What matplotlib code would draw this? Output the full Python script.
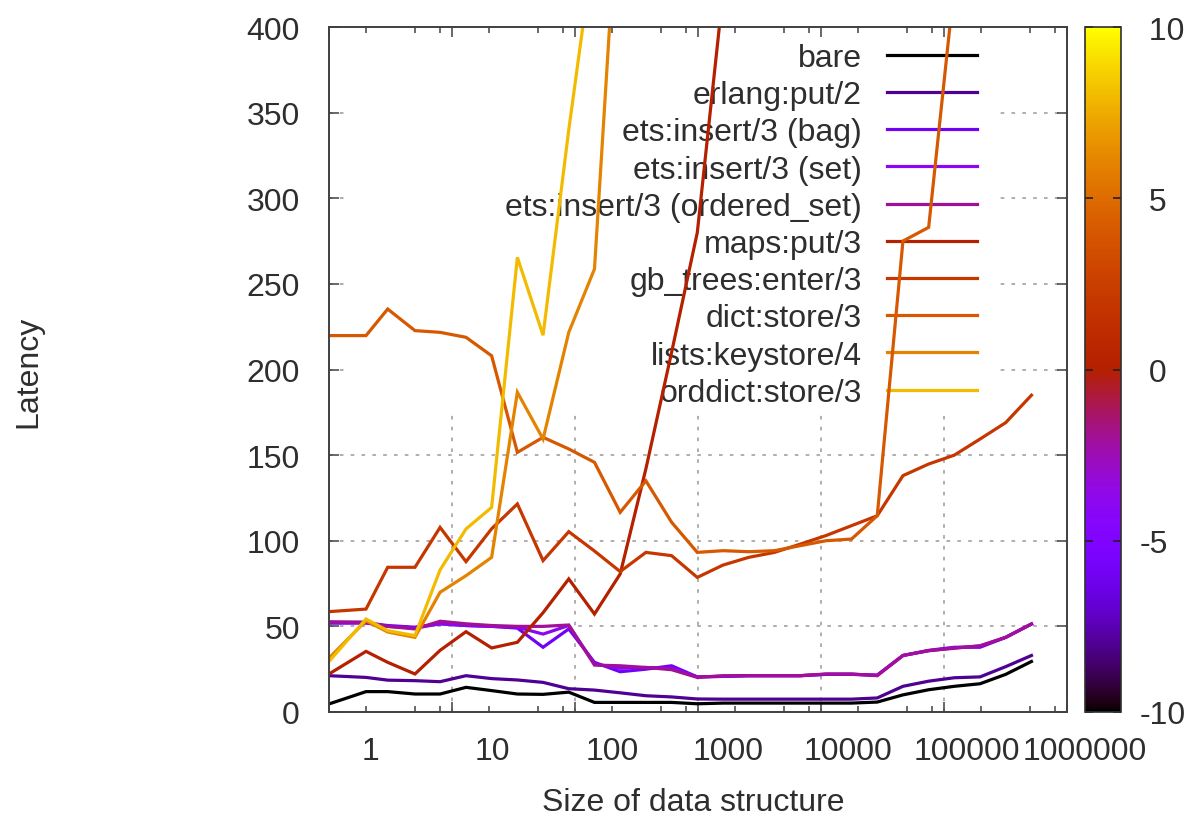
import numpy as np
import matplotlib
matplotlib.use("Agg")
import matplotlib.pyplot as plt
from matplotlib.patches import Rectangle
from matplotlib.lines import Line2D
from matplotlib.transforms import blended_transform_factory, ScaledTranslation
import matplotlib.cm as cm
from matplotlib.colors import Normalize

plt.rcParams['font.family'] = ['Liberation Sans', 'DejaVu Sans']

nan = np.nan
sizes = [1, 2, 3, 5, 8, 13, 21, 34, 55, 89, 144, 233, 377, 610, 987, 1597, 2584,
         4181, 6765, 10946, 17711, 28657, 46368, 75025, 121393, 196418, 317811, 514229]

bare = [4.7, 11.9, 11.9, 10.5, 10.5, 14.4, 12.5, 10.5, 10.3, 11.6, 5.6, 5.6, 5.6, 5.6,
        4.8, 5.2, 5.2, 5.2, 5.2, 5.2, 5.2, 5.8, 10, 13, 15, 16.5, 22, 29.5]
erlang_put = [21.2, 20.2, 18.6, 18.3, 17.7, 21.2, 19.5, 18.7, 17.3, 13.6, 12.8, 11.2, 9.5, 8.8,
              7.6, 7.5, 7.5, 7.5, 7.5, 7.5, 7.5, 8.2, 15, 18, 20, 20.5, 26.5, 33]
ets_bag = [52, 52, 50.5, 49.5, 51.5, 50.5, 50, 49, 37.8, 48.5, 29, 23.5, 25, 27,
           20.5, 20.8, 21.2, 21.2, 21.2, 22, 22, 21.5, 33, 36, 37.8, 37.8, 43.6, 51.4]
ets_set = [52, 52, 50, 49, 51.5, 50.5, 50, 49.5, 45.5, 50.5, 28, 25.5, 26, 25.5,
           20.5, 20.8, 21.2, 21.2, 21.2, 22, 22, 21.5, 33, 35.8, 37.5, 38.5, 43.6, 51.4]
ets_ordered = [52.7, 52.5, 50, 48.5, 53, 51.5, 50.5, 50, 50, 50.8, 27.4, 27, 26, 24.7,
               20.2, 21.2, 21.2, 21.2, 21.2, 22.2, 22.2, 21.2, 33, 35.8, 37.2, 38.7, 43.6, 51.4]
maps_put = [22.2, 35.4, 29, 22.2, 36, 46.9, 37.4, 40.7, 58, 77.7, 57.2, 80.6, 142, 210,
            280, 420, nan, nan, nan, nan, nan, nan, nan, nan, nan, nan, nan, nan]
gb_trees = [58.6, 60.1, 84.5, 84.5, 107.8, 87.8, 107, 121.5, 88.4, 105.3, 94, 82, 93.2, 91.3,
            78.6, 85.8, 90.3, 93.2, 98, 103, 108.8, 114.6, 138, 144.8, 150, 159.4, 169, 185]
dict_store = [219.8, 219.8, 235.3, 222.7, 221.7, 218.8, 208, 151.6, 160.4, 153.6, 145.8, 116.6,
              135, 110.8, 93.2, 94.2, 93.6, 94.2, 97.1, 100, 101, 114.6, 275, 283, 425, nan, nan, nan]
lists_keystore = [31.5, 53.3, 46.7, 43.6, 69.9, 79.6, 90.3, 186.7, 159.4, 221.7, 258.7, 500,
                  nan, nan, nan, nan, nan, nan, nan, nan, nan, nan, nan, nan, nan, nan, nan, nan]
orddict_store = [29.5, 54.3, 47.5, 44.6, 83, 106.9, 119.5, 265.5, 220, 340, 450, nan,
                 nan, nan, nan, nan, nan, nan, nan, nan, nan, nan, nan, nan, nan, nan, nan, nan]

labels = ['bare', 'erlang:put/2', 'ets:insert/3 (bag)', 'ets:insert/3 (set)',
          'ets:insert/3 (ordered_set)', 'maps:put/3', 'gb_trees:enter/3', 'dict:store/3',
          'lists:keystore/4', 'orddict:store/3']
series = [bare, erlang_put, ets_bag, ets_set, ets_ordered, maps_put, gb_trees,
          dict_store, lists_keystore, orddict_store]

xticks = [1, 10, 100, 1000, 10000, 100000, 1000000]
xticklabels = ['1', '10', '100', '1000', '10000', '100000', '1000000']
yticks = [0, 50, 100, 150, 200, 250, 300, 350, 400]
cb_ticks = [-10, -5, 0, 5, 10]
cb_ticklabels = ['-10', '-5', ' 0', ' 5', ' 10']

W, H = 1189, 820
fig = plt.figure(figsize=(W / 100, H / 100), dpi=100)
L, R, T, B = 329, 1067, 28, 713
ax = fig.add_axes([L / W, 1 - B / H, (R - L) / W, (B - T) / H])
ax.set_xscale('log')
ax.set_xlim(1, 1e6)
ax.set_ylim(0, 400)

cmap = matplotlib.colormaps['gnuplot']
txtc = '#2e2e2e'
fs = 23

handles = []
for i, (lab, ys) in enumerate(zip(labels, series)):
    col = cmap(i / 10)
    ax.plot(sizes, ys, color=col, lw=2.3, zorder=2 + i * 0.01, label=lab,
            solid_joinstyle='miter')
    handles.append(Line2D([], [], color=col, lw=2.3))

# grid (drawn manually so the key box can hide it)
gcol = '#a8a8a8'
for v in yticks[1:-1]:
    ax.axhline(v, color=gcol, lw=1.3, ls=(0, (2, 4)), zorder=0.8)
for v in xticks[1:-1]:
    ax.axvline(v, color=gcol, lw=1.3, ls=(0, (2, 4)), zorder=0.8)

# key box hiding the grid
kx0, kx1, ky1 = 350, 995, 413
ax.add_patch(Rectangle(((kx0 - L) / (R - L), (B - ky1) / (B - T)),
                       (kx1 - kx0) / (R - L), (ky1 - T) / (B - T) + 0.01,
                       transform=ax.transAxes, facecolor='white', edgecolor='none',
                       zorder=1, clip_on=True))

leg = ax.legend(handles, labels, loc='upper right',
                bbox_to_anchor=(977 / W, 1 - 44 / H), bbox_transform=fig.transFigure,
                frameon=False, markerfirst=False, handlelength=2.82, handletextpad=0.78,
                labelspacing=0.225, borderpad=0, borderaxespad=0, fontsize=fs)
for t in leg.get_texts():
    t.set_color(txtc)
leg.set_zorder(1.5)

# ticks
spc = '#404040'
for s in ax.spines.values():
    s.set_color(spc)
    s.set_linewidth(1.4)
    s.set_zorder(3)
ax.set_xticks(xticks)
ax.set_xticks([m * 10 ** k for k in range(6) for m in (2, 5, 8)], minor=True)
ax.set_yticks(yticks)
ax.set_yticklabels([str(v) for v in yticks])
ax.tick_params(axis='both', which='both', direction='in', top=True, right=True,
               color=spc, width=1.1, labelcolor=txtc, labelsize=fs)
ax.tick_params(axis='both', which='major', length=7.5)
ax.tick_params(axis='x', which='minor', length=4)
ax.tick_params(axis='x', labelbottom=False)
ax.tick_params(axis='y', pad=21)

# x tick labels as placed in the reference
offs_px = [42, 40, 37, 30, 27, 23, 18]
tr = blended_transform_factory(ax.transData, ax.transAxes)
for v, lab, dx in zip(xticks, xticklabels, offs_px):
    ax.text(v, (B - 760) / (B - T), lab, ha='center', va='baseline', fontsize=fs,
            color=txtc, clip_on=False,
            transform=tr + ScaledTranslation(dx / 100, 0, fig.dpi_scale_trans))

fig.text(693 / W, 1 - 803 / H, 'Size of data structure', ha='center', va='center',
         fontsize=fs, color=txtc)
fig.text(28 / W, 1 - 372 / H, 'Latency', ha='center', va='center', rotation=90,
         fontsize=fs, color=txtc)

# colorbar
cax = fig.add_axes([1085 / W, 1 - B / H, 36 / W, (B - T) / H])
sm = cm.ScalarMappable(norm=Normalize(-10, 10), cmap=cmap)
cb = fig.colorbar(sm, cax=cax)
cb.outline.set_edgecolor('#303030')
cb.outline.set_linewidth(1.2)
cb.set_ticks(cb_ticks)
cb.set_ticklabels(cb_ticklabels)
cax.tick_params(direction='in', left=True, right=True, length=6, width=1.2,
                color='#202020', labelsize=fs, labelcolor=txtc, pad=13.5)
for t in cax.get_yticklabels():
    t.set_ha('left')

fig.savefig('out.png', dpi=100)
